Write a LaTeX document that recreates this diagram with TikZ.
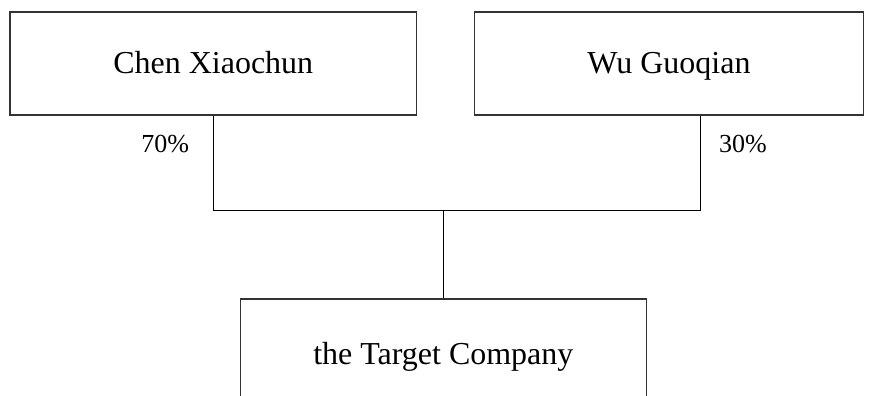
\documentclass[tikz,border=0pt]{standalone}
\usepackage{fontspec}
\setmainfont{Liberation Serif}
\usetikzlibrary{positioning, calc}
\tikzset{
    boxnode/.style = {draw=black!80, line width=0.03cm, rectangle, inner sep=0em,
      minimum height=2.06cm, text height=0.842cm, text depth=0.45cm,
      font=\fontsize{18.2}{22}\selectfont},
    textnode/.style = {draw=none, fill=none, rectangle, inner sep=0em,
      font=\fontsize{14.8}{18}\selectfont},
    connect/.style = {black, line width=0.028cm}
}

\begin{document}
\begin{tikzpicture}
    \useasboundingbox (0,0) rectangle (17.44,-7.9);
    \clip (0,0) rectangle (17.44,-7.9);

    \node [name=chen, boxnode, minimum width=8.13cm] at (4.265,-1.27) {Chen Xiaochun};
    \node [name=wu, boxnode, minimum width=7.78cm, right=1.13cm of chen] {Wu Guoqian};
    \node [name=target, boxnode, minimum width=8.12cm, text height=1.002cm] at (8.866,-7.01) {the Target Company};

    % legs and bar
    \coordinate (wuleg) at ([xshift=0.63cm]wu.south);
    \coordinate (bar) at ($(target.north)+(0,1.76)$);
    \draw [connect] (chen.south) |- (bar) -| (wuleg);
    \draw [connect] (bar) -- (target.north);

    \node [name=share70, textnode] at ([xshift=-0.96cm, yshift=-0.56cm]chen.south) {70\%};
    \node [name=share30, textnode] at ([xshift=0.85cm, yshift=-0.56cm]wuleg) {30\%};
\end{tikzpicture}
\end{document}
